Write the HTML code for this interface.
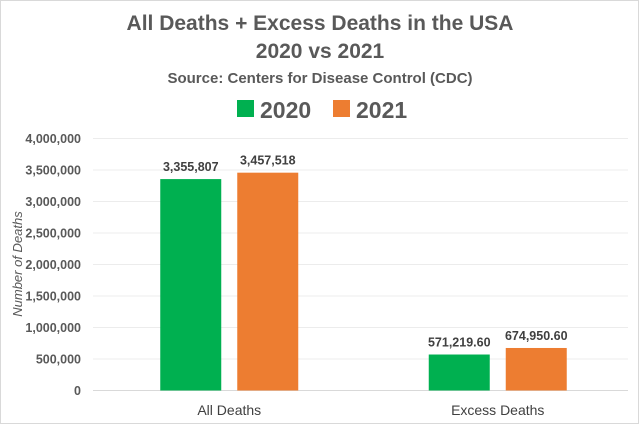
<!DOCTYPE html>
<html><head><meta charset="utf-8"><style>
body{margin:0;background:#fff;}
svg{display:block;font-family:"Liberation Sans",sans-serif;}
</style></head><body>
<svg id="chart" width="639" height="424">
<rect x="0.5" y="0.5" width="638" height="423" fill="#fff" stroke="#d9d9d9"/>
<text x="320" y="30" text-anchor="middle" font-size="21" font-weight="bold" fill="#595959">All Deaths + Excess Deaths in the USA</text>
<text x="320" y="58" text-anchor="middle" font-size="21" font-weight="bold" fill="#595959">2020 vs 2021</text>
<text x="320" y="83" text-anchor="middle" font-size="15" font-weight="bold" fill="#595959">Source: Centers for Disease Control (CDC)</text>
<g>
<rect x="237" y="100" width="17" height="17" fill="#00b050"/>
<text x="260" y="118" font-size="23" font-weight="bold" fill="#595959">2020</text>
<rect x="333" y="100" width="17" height="17" fill="#ed7d31"/>
<text x="356" y="118" font-size="23" font-weight="bold" fill="#595959">2021</text>
</g>
<text transform="translate(22,264) rotate(-90)" text-anchor="middle" font-size="13" font-style="italic" fill="#595959">Number of Deaths</text>
<g id="grid"></g><g id="bars"></g>
</svg>
<script>
const categories=["All Deaths","Excess Deaths"];
const values2020=[3355807,571219.60];
const values2021=[3457518,674950.60];
const labels2020=["3,355,807","571,219.60"];
const labels2021=["3,457,518","674,950.60"];
const ticks=[0,500000,1000000,1500000,2000000,2500000,3000000,3500000,4000000];
const NS="http://www.w3.org/2000/svg";
const x0=95,x1=632,gx0=93,gx1=628,y0=390.5,yTop=138.5,maxV=4000000;
function y(v){return y0-(v/maxV)*(y0-yTop);}
const catW=(x1-x0)/categories.length;
function cx(i){return x0+catW*(i+0.5);}
function mk(tag,attrs,parent){const e=document.createElementNS(NS,tag);for(const k in attrs)e.setAttribute(k,attrs[k]);parent.appendChild(e);return e;}
const grid=document.getElementById('grid'),bars=document.getElementById('bars');
ticks.forEach(t=>{
 const l=mk('line',{x1:gx0,x2:gx1,y1:y(t),y2:y(t),stroke:t===0?'#d9d9d9':'#ececec','stroke-width':1},grid);
 
 
 const tx=mk('text',{x:81,y:y(t)+4.5,'text-anchor':'end','font-size':12.5,'font-weight':'bold',fill:'#595959'},grid);
 tx.textContent=t.toLocaleString('en-US');
 
 
});
const bw=61,gap=16;
categories.forEach((c,i)=>{
 const c0=cx(i);
 [[values2020,labels2020,'#00b050',-1,'2020'],[values2021,labels2021,'#ed7d31',1,'2021']].forEach(([vals,labs,col,s,yr])=>{
  const bx=s<0?c0-gap/2-bw:c0+gap/2;
  const r=mk('rect',{x:bx,y:y(vals[i]),width:bw,height:y0-y(vals[i]),fill:col},bars);
  
  
  const t=mk('text',{x:bx+bw/2,y:y(vals[i])-8,'text-anchor':'middle','font-size':12.5,'font-weight':'bold',fill:'#404040'},bars);
  t.textContent=labs[i];
  
  
 });
 const ct=mk('text',{x:c0,y:415,'text-anchor':'middle','font-size':14,fill:'#404040'},bars);
 ct.textContent=c;
 
 
});
</script>
</body></html>
